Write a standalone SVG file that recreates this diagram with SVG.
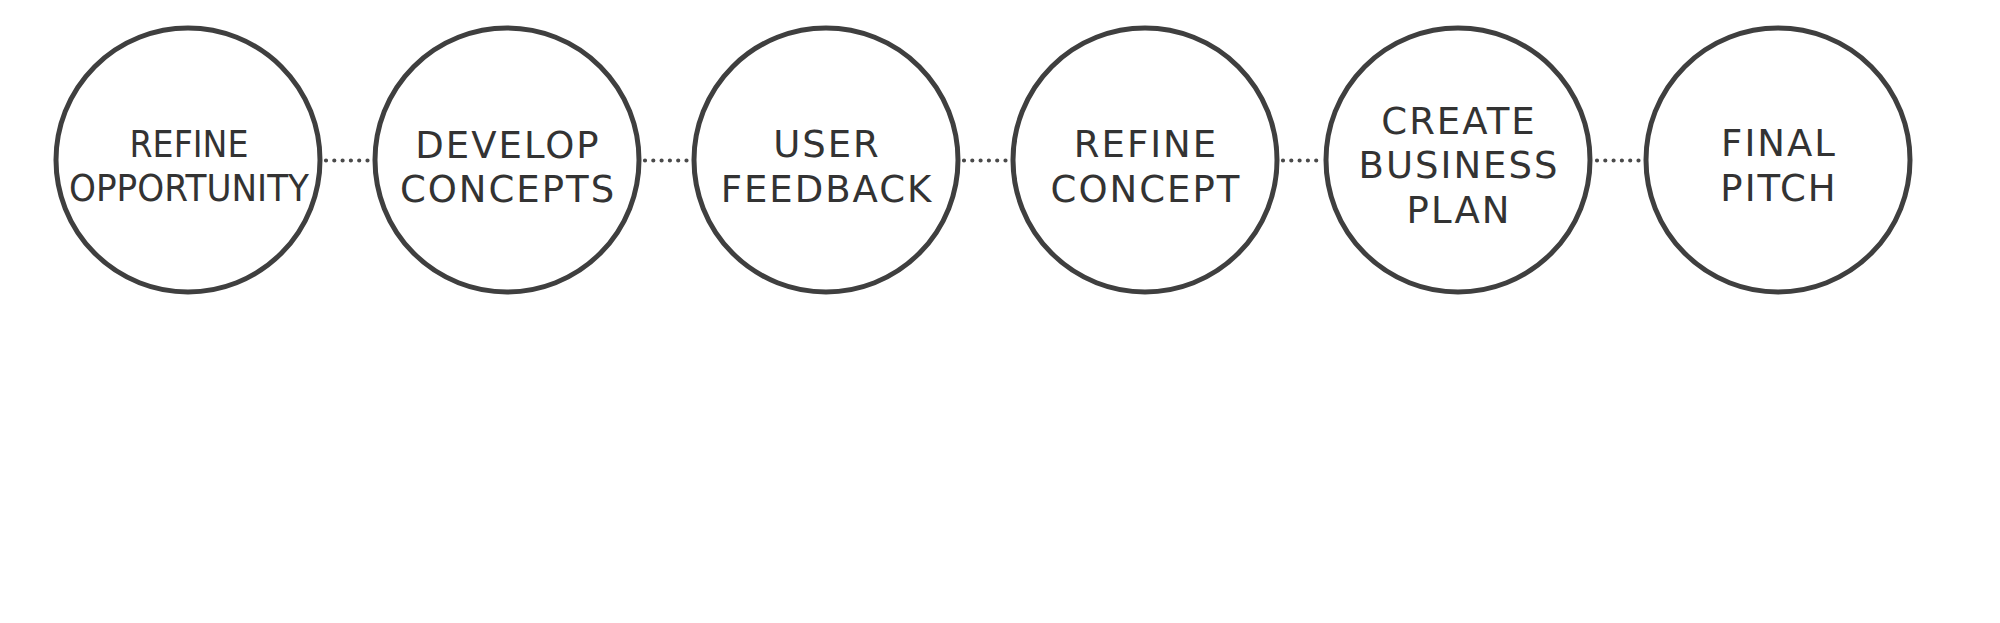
<svg xmlns="http://www.w3.org/2000/svg" width="2000" height="623" viewBox="0 0 2000 623">
<style>
.node circle{fill:#fff;stroke:#3f3f3f;stroke-width:5}
.node text{font-family:"DejaVu Sans",Verdana,sans-serif;font-size:37px;fill:#333;text-anchor:middle;letter-spacing:2px}
.conn line{stroke:#4a4a4a;stroke-width:4.2;stroke-linecap:round;stroke-dasharray:0 8.3}
</style>
<rect width="2000" height="623" fill="#fff"/>
<g id="connectors" class="conn">
<line x1="326" y1="160.5" x2="368" y2="160.5"/>
<line x1="645" y1="160.5" x2="687" y2="160.5"/>
<line x1="964" y1="160.5" x2="1006" y2="160.5"/>
<line x1="1283" y1="160.5" x2="1320" y2="160.5"/>
<line x1="1597" y1="160.5" x2="1639" y2="160.5"/>
</g>
<g id="n1" class="node">
<circle cx="188" cy="160" r="132"/>
<text x="189" y="157" textLength="119" lengthAdjust="spacingAndGlyphs" style="letter-spacing:0">REFINE</text>
<text x="189" y="201" textLength="240" lengthAdjust="spacingAndGlyphs" style="letter-spacing:0">OPPORTUNITY</text>
</g>
<g id="n2" class="node">
<circle cx="507" cy="160" r="132"/>
<text x="508" y="157.5">DEVELOP</text>
<text x="508" y="201.5">CONCEPTS</text>
</g>
<g id="n3" class="node">
<circle cx="826" cy="160" r="132"/>
<text x="827" y="157">USER</text>
<text x="827" y="201.5">FEEDBACK</text>
</g>
<g id="n4" class="node">
<circle cx="1145" cy="160" r="132"/>
<text x="1146" y="157">REFINE</text>
<text x="1146" y="201.5">CONCEPT</text>
</g>
<g id="n5" class="node">
<circle cx="1458" cy="160" r="132"/>
<text x="1459" y="134">CREATE</text>
<text x="1459" y="178">BUSINESS</text>
<text x="1459" y="222.5">PLAN</text>
</g>
<g id="n6" class="node">
<circle cx="1778" cy="160" r="132"/>
<text x="1779" y="156">FINAL</text>
<text x="1779" y="201">PITCH</text>
</g>
</svg>
